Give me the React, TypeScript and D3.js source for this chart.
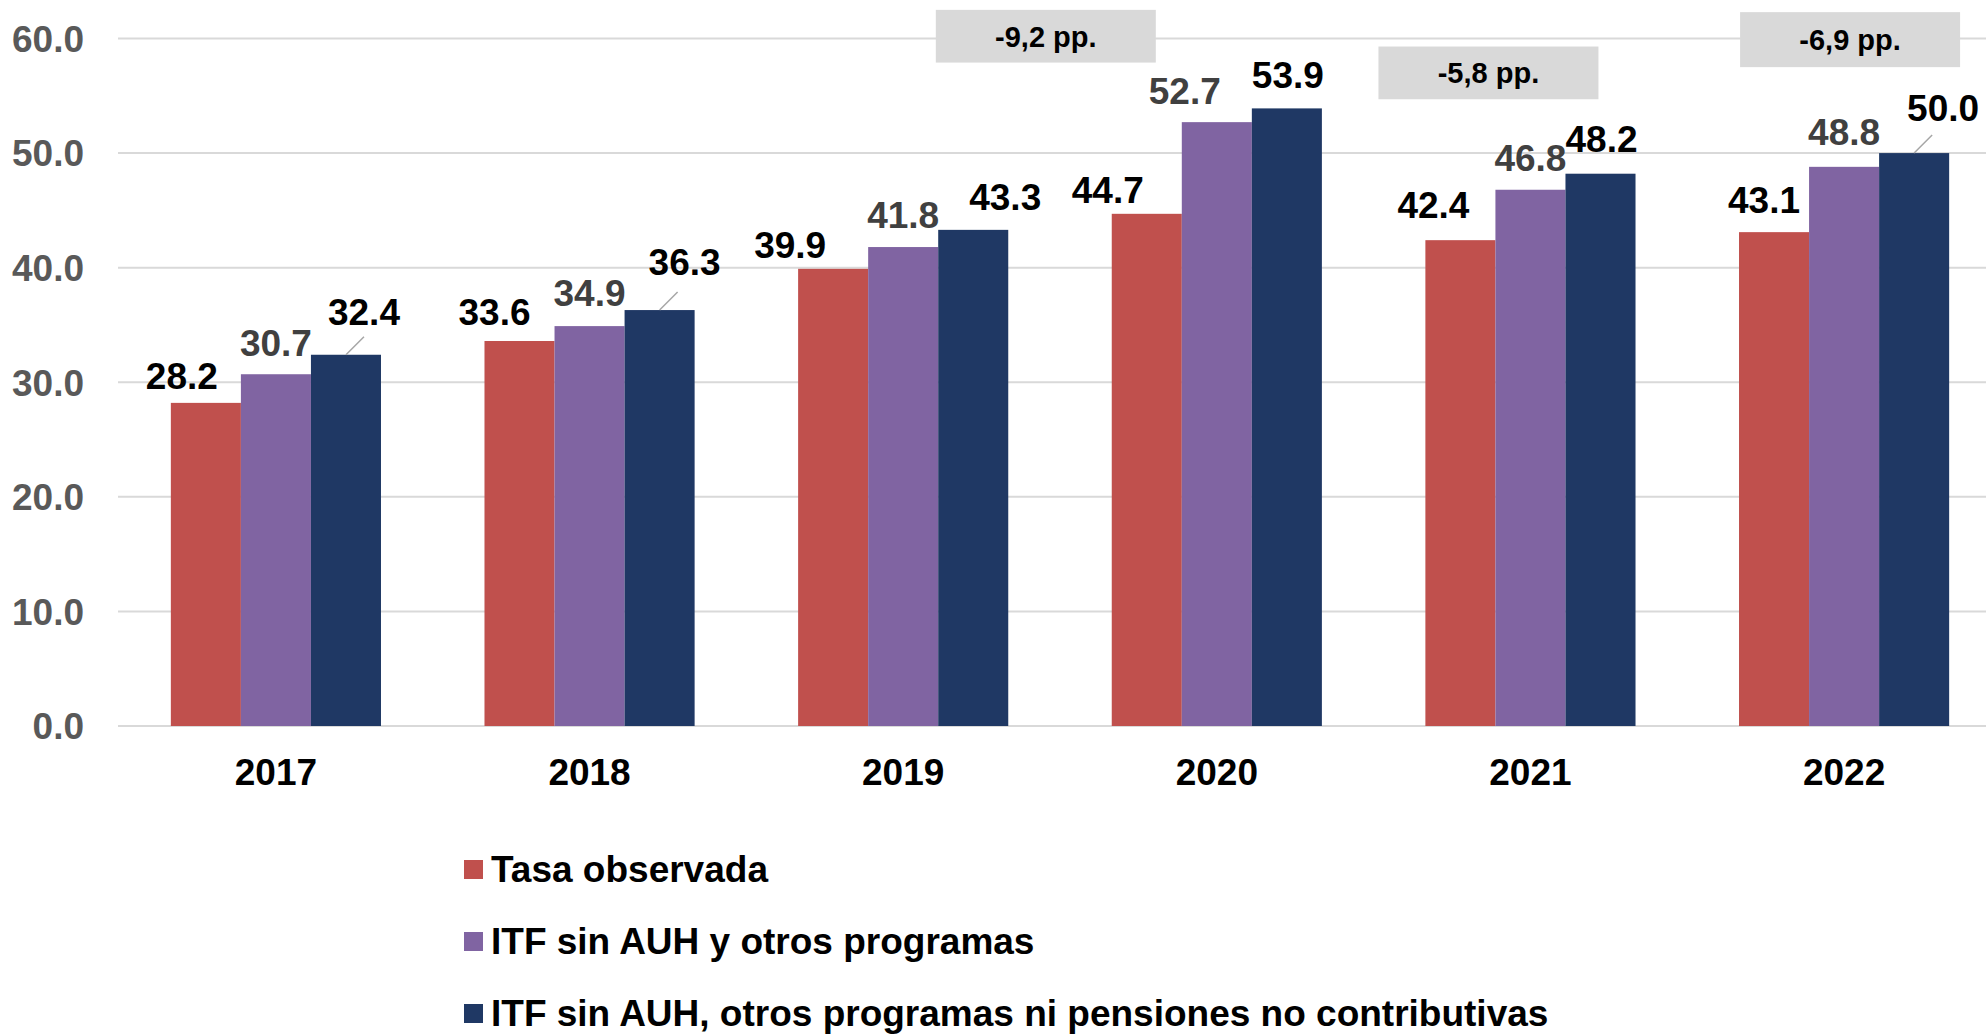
import { useRef, useEffect } from 'react';
import * as d3 from 'd3';

const YEARS = ['2017', '2018', '2019', '2020', '2021', '2022'];
const TASA_OBSERVADA = [28.2, 33.6, 39.9, 44.7, 42.4, 43.1];
const SIN_AUH = [30.7, 34.9, 41.8, 52.7, 46.8, 48.8];
const SIN_AUH_PNC = [32.4, 36.3, 43.3, 53.9, 48.2, 50.0];
const SERIES_NAMES = [
  'Tasa observada',
  'ITF sin AUH y otros programas',
  'ITF sin AUH, otros programas ni pensiones no contributivas',
];
const Y_TICKS = [0, 10, 20, 30, 40, 50, 60];
const GAP_YEARS = ['2020', '2021', '2022'];
const GAP_LABELS = ['-9,2 pp.', '-5,8 pp.', '-6,9 pp.'];

const COLORS = ['#C0504D', '#8064A2', '#1F3864'];
const LABEL_COLORS = ['#000000', '#404040', '#000000'];
const FONT = '"Liberation Sans", Arial, sans-serif';

// manual label nudges (dx, gap above bar), like the hand-moved Excel labels
const NUDGE_DX = [
  [-24, 0, 18], [-25, 0, 25], [-43, 0, 32], [-39, -32, 1], [-27, 0, 1], [-10, 0, 29],
];
const NUDGE_GAP = [
  [14, 18, 30], [16, 20, 35], [11, 19, 20], [11, 18, 20], [22, 19, 22], [19, 22, 32],
];
const LEADER = [[false, false, true], [false, false, true], [false, false, false],
  [false, false, false], [false, false, false], [false, false, true]];
// annotation box: x offset from group center, top/bottom in value units
const GAP_BOX = [
  { dx: -171, top: 62.5, bottom: 57.9 },
  { dx: -42, top: 59.3, bottom: 54.7 },
  { dx: 6, top: 62.3, bottom: 57.5 },
];

export default function App() {
  const ref = useRef<SVGSVGElement | null>(null);

  useEffect(() => {
    document.body.style.margin = '0';
    const svg = d3.select(ref.current);
    svg.selectAll('*').remove();

    const W = 1986;
    const left = 118;
    const x0 = d3.scaleBand().domain(YEARS).range([left + 8, W + 8]).paddingInner(0.33).paddingOuter(0.143);
    const x1 = d3.scaleBand().domain(['0', '1', '2']).range([0, x0.bandwidth()]);
    const y = d3.scaleLinear().domain([0, 60]).range([726, 38.5]);
    const series = [TASA_OBSERVADA, SIN_AUH, SIN_AUH_PNC];

    // grid
    svg.append('g').selectAll('line').data(Y_TICKS).join('line')
      .attr('x1', left).attr('x2', W)
      .attr('y1', d => y(d)).attr('y2', d => y(d))
      .attr('stroke', '#d9d9d9').attr('stroke-width', 2);

    svg.append('g').selectAll('text').data(Y_TICKS).join('text')
      .attr('x', 84).attr('y', d => y(d)).attr('dy', '0.36em')
      .attr('text-anchor', 'end').attr('fill', '#595959')
      .style('font-family', FONT).style('font-size', '37px').style('font-weight', '700')
      .text(d => d3.format('.1f')(d));

    // x labels
    svg.append('g').selectAll('text').data(YEARS).join('text')
      .attr('x', d => x0(d)! + x0.bandwidth() / 2).attr('y', 785)
      .attr('text-anchor', 'middle').attr('fill', '#000')
      .style('font-family', FONT).style('font-size', '37px').style('font-weight', '700')
      .text(d => d);

    // bars
    series.forEach((vals, s) => {
      svg.append('g').selectAll('rect').data(vals).join('rect')
        .attr('x', (_, i) => x0(YEARS[i])! + x1(String(s))!)
        .attr('width', x1.bandwidth())
        .attr('y', d => y(d))
        .attr('height', d => y(0) - y(d))
        .attr('fill', COLORS[s]);
    });

    // data labels
    series.forEach((vals, s) => {
      vals.forEach((v, i) => {
        const cx = x0(YEARS[i])! + x1(String(s))! + x1.bandwidth() / 2;
        const tx = cx + NUDGE_DX[i][s];
        const ty = y(v) - NUDGE_GAP[i][s];
        if (LEADER[i][s]) {
          svg.append('line')
            .attr('x1', cx).attr('y1', y(v))
            .attr('x2', cx + 18).attr('y2', y(v) - 18)
            .attr('stroke', '#a6a6a6').attr('stroke-width', 1.5);
        }
        svg.append('text')
          .attr('x', tx).attr('y', ty)
          .attr('text-anchor', 'middle').attr('fill', LABEL_COLORS[s])
          .style('font-family', FONT).style('font-size', '37px').style('font-weight', '700')
          .text(d3.format('.1f')(v));
      });
    });

    // gap annotations
    GAP_YEARS.forEach((yr, k) => {
      const cx = x0(yr)! + x0.bandwidth() / 2 + GAP_BOX[k].dx;
      const bw = 220;
      const top = y(GAP_BOX[k].top);
      const bot = y(GAP_BOX[k].bottom);
      svg.append('rect')
        .attr('x', cx - bw / 2).attr('y', top)
        .attr('width', bw).attr('height', bot - top)
        .attr('fill', '#d9d9d9');
      svg.append('text')
        .attr('x', cx).attr('y', (top + bot) / 2).attr('dy', '0.36em')
        .attr('text-anchor', 'middle').attr('fill', '#000')
        .style('font-family', FONT).style('font-size', '29px').style('font-weight', '700')
        .text(GAP_LABELS[k]);
    });

    // legend
    const leg = svg.append('g');
    SERIES_NAMES.forEach((name, s) => {
      const cy = 869 + s * 72;
      leg.append('rect')
        .attr('x', 464).attr('y', cy - 9).attr('width', 19).attr('height', 19)
        .attr('fill', COLORS[s]);
      leg.append('text')
        .attr('x', 491).attr('y', cy).attr('dy', '0.36em')
        .attr('fill', '#000')
        .style('font-family', FONT).style('font-size', '37px').style('font-weight', '700')
        .text(name);
    });
  }, []);

  return <svg ref={ref} width={1986} height={1034} style={{ display: 'block' }} />;
}
